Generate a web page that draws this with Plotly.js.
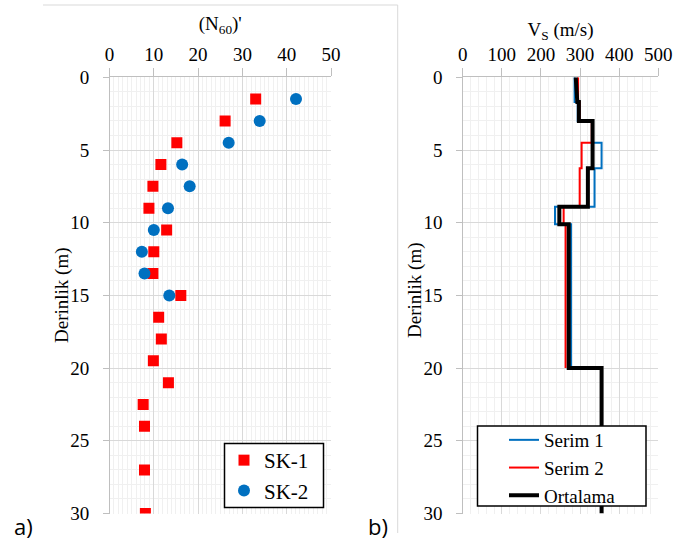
<!DOCTYPE html>
<html>
<head>
<meta charset="utf-8">
<script src="https://cdn.plot.ly/plotly-3.0.1.min.js"></script>
<style>html,body{margin:0;padding:0;background:#fff;}#chart{width:675px;height:542px;}</style>
</head>
<body>
<div id="chart"></div>
<script>
// Left panel: (N60)' vs depth
const sk1Depth = [1.5, 3, 4.5, 6, 7.5, 9, 10.5, 12, 13.5, 15, 16.5, 18, 19.5, 21, 22.5, 24, 27, 30];
const sk1N60 = [33.0, 26.1, 15.2, 11.6, 9.8, 8.9, 12.9, 10.0, 9.8, 16.1, 11.1, 11.7, 9.9, 13.3, 7.6, 7.9, 7.9, 8.1];
const sk2Depth = [1.5, 3, 4.5, 6, 7.5, 9, 10.5, 12, 13.5, 15];
const sk2N60 = [42.1, 33.9, 26.9, 16.4, 18.1, 13.2, 10.0, 7.3, 7.9, 13.5];

// Right panel: Vs step profiles
const serim1Depth = [0, 1.7, 1.7, 3, 3, 4.5, 4.5, 6.25, 6.25, 8.9, 8.9, 10.1, 10.1, 20];
const serim1Vs = [286, 286, 294, 294, 333, 333, 355, 355, 337, 337, 236, 236, 277, 277];
const serim2Depth = [0, 1.7, 1.7, 3, 3, 4.5, 4.5, 6.25, 6.25, 8.9, 8.9, 10.1, 10.1, 20];
const serim2Vs = [295, 295, 299, 299, 330, 330, 304, 304, 299, 299, 258, 258, 263, 263];
const ortDepth = [0, 1.7, 1.7, 3, 3, 6.25, 6.25, 8.9, 8.9, 10.1, 10.1, 20, 20, 30];
const ortVs = [289, 293, 297, 297, 332, 332, 320, 320, 247, 247, 271, 271, 355, 355];

const leftTicksX = [0, 10, 20, 30, 40, 50];
const rightTicksX = [0, 100, 200, 300, 400, 500];
const depthTicks = [0, 5, 10, 15, 20, 25, 30];

const serif = 'Liberation Serif';
function f(size) { return {family: serif, size: size, color: '#000000'}; }

const traces = [
  {x: sk1N60, y: sk1Depth, name: 'SK-1', type: 'scatter', mode: 'markers',
   marker: {symbol: 'square', size: 11, color: '#ff0000'}, xaxis: 'x', yaxis: 'y', legend: 'legend'},
  {x: sk2N60, y: sk2Depth, name: 'SK-2', type: 'scatter', mode: 'markers',
   marker: {symbol: 'circle', size: 12, color: '#0070c0'}, xaxis: 'x', yaxis: 'y', legend: 'legend'},
  {x: serim1Vs, y: serim1Depth, name: 'Serim 1', type: 'scatter', mode: 'lines',
   line: {color: '#0070c0', width: 2}, xaxis: 'x2', yaxis: 'y2', legend: 'legend2'},
  {x: serim2Vs, y: serim2Depth, name: 'Serim 2', type: 'scatter', mode: 'lines',
   line: {color: '#ff0000', width: 2}, xaxis: 'x2', yaxis: 'y2', legend: 'legend2'},
  {x: ortVs, y: ortDepth, name: 'Ortalama', type: 'scatter', mode: 'lines',
   line: {color: '#000000', width: 4}, xaxis: 'x2', yaxis: 'y2', legend: 'legend2'}
];

const yDom = [1 - 513.5 / 542, 1 - 77.3 / 542];
function xAx(dom, range, minor, vals, titleText, anchor, standoff) {
  return {
    domain: dom, range: range, side: 'top', anchor: anchor,
    tickmode: 'array', tickvals: vals, ticktext: vals.map(String), tickfont: f(19),
    showline: true, linecolor: '#bfbfbf', linewidth: 1,
    ticks: 'outside', ticklen: 8, tickcolor: '#bfbfbf',
    showgrid: true, gridcolor: '#d9d9d9', gridwidth: 1, zeroline: false,
    minor: {dtick: minor, showgrid: true, gridcolor: '#f0f0f0', gridwidth: 1},
    title: {text: titleText, font: f(19), standoff: standoff},
    automargin: false, fixedrange: true
  };
}
function yAx(anchor) {
  return {
    domain: yDom, range: [30, 0], anchor: anchor,
    tickmode: 'array', tickvals: depthTicks, ticktext: depthTicks.map(v => v + '\u00a0\u00a0'), tickfont: f(19),
    showline: true, linecolor: '#bfbfbf', linewidth: 1,
    ticks: 'outside', ticklen: 6, tickcolor: '#bfbfbf',
    showgrid: true, gridcolor: '#d9d9d9', gridwidth: 1, zeroline: false,
    minor: {dtick: 1, showgrid: true, gridcolor: '#f0f0f0', gridwidth: 1},
    automargin: false, fixedrange: true
  };
}

function px(x) { return x / 675; }
function py(y) { return 1 - y / 542; }

const layout = {
  width: 675, height: 542,
  margin: {l: 0, r: 0, t: 0, b: 0},
  font: {family: serif, size: 19, color: '#000000'},
  paper_bgcolor: '#ffffff', plot_bgcolor: '#ffffff',
  showlegend: true,
  xaxis: xAx([px(109.5), px(331)], [0, 50], 1, leftTicksX, '(N<sub>60</sub>)\'', 'y', 8),
  yaxis: yAx('x'),
  xaxis2: xAx([px(462.7), px(658.3)], [0, 500], 20, rightTicksX, 'V<sub>S</sub> (m/s)', 'y2', 2),
  yaxis2: yAx('x2'),
  legend: {x: px(224), y: py(440), xanchor: 'left', yanchor: 'top',
    bgcolor: 'rgba(0,0,0,0)', borderwidth: 0,
    font: f(21), itemwidth: 30, tracegroupgap: 0},
  legend2: {x: px(504), y: py(421), xanchor: 'left', yanchor: 'top',
    bgcolor: 'rgba(0,0,0,0)', borderwidth: 0,
    font: f(19), itemwidth: 30, tracegroupgap: 0},
  shapes: [
    {type: 'line', xref: 'paper', yref: 'paper', x0: px(43), x1: px(397.7), y0: py(5), y1: py(5),
     line: {color: '#d9d9d9', width: 1}},
    {type: 'line', xref: 'paper', yref: 'paper', x0: px(397.7), x1: px(397.7), y0: py(5), y1: py(533),
     line: {color: '#d9d9d9', width: 1}},
    {type: 'rect', xref: 'paper', yref: 'paper', x0: px(224.5), x1: px(323.5), y0: py(443.5), y1: py(507.5),
     fillcolor: '#ffffff', line: {color: '#000000', width: 1.5}, layer: 'above'},
    {type: 'rect', xref: 'paper', yref: 'paper', x0: px(477.5), x1: px(646), y0: py(426), y1: py(506),
     fillcolor: '#ffffff', line: {color: '#000000', width: 1.5}, layer: 'above'}
  ],
  annotations: [
    {text: 'Derinlik (m)', xref: 'paper', yref: 'paper', x: px(62), y: py(295), xanchor: 'center', yanchor: 'middle',
     textangle: -90, showarrow: false, font: f(19)},
    {text: 'Derinlik (m)', xref: 'paper', yref: 'paper', x: px(415), y: py(290), xanchor: 'center', yanchor: 'middle',
     textangle: -90, showarrow: false, font: f(19)},
    {text: 'a)', xref: 'paper', yref: 'paper', x: px(12), y: py(526), xanchor: 'left', yanchor: 'middle',
     showarrow: false, font: {family: 'Open Sans', size: 22, color: '#000000'}},
    {text: 'b)', xref: 'paper', yref: 'paper', x: px(366), y: py(526), xanchor: 'left', yanchor: 'middle',
     showarrow: false, font: {family: 'Open Sans', size: 22, color: '#000000'}}
  ]
};

Plotly.newPlot('chart', traces, layout, {displayModeBar: false, staticPlot: true});
</script>
</body>
</html>
